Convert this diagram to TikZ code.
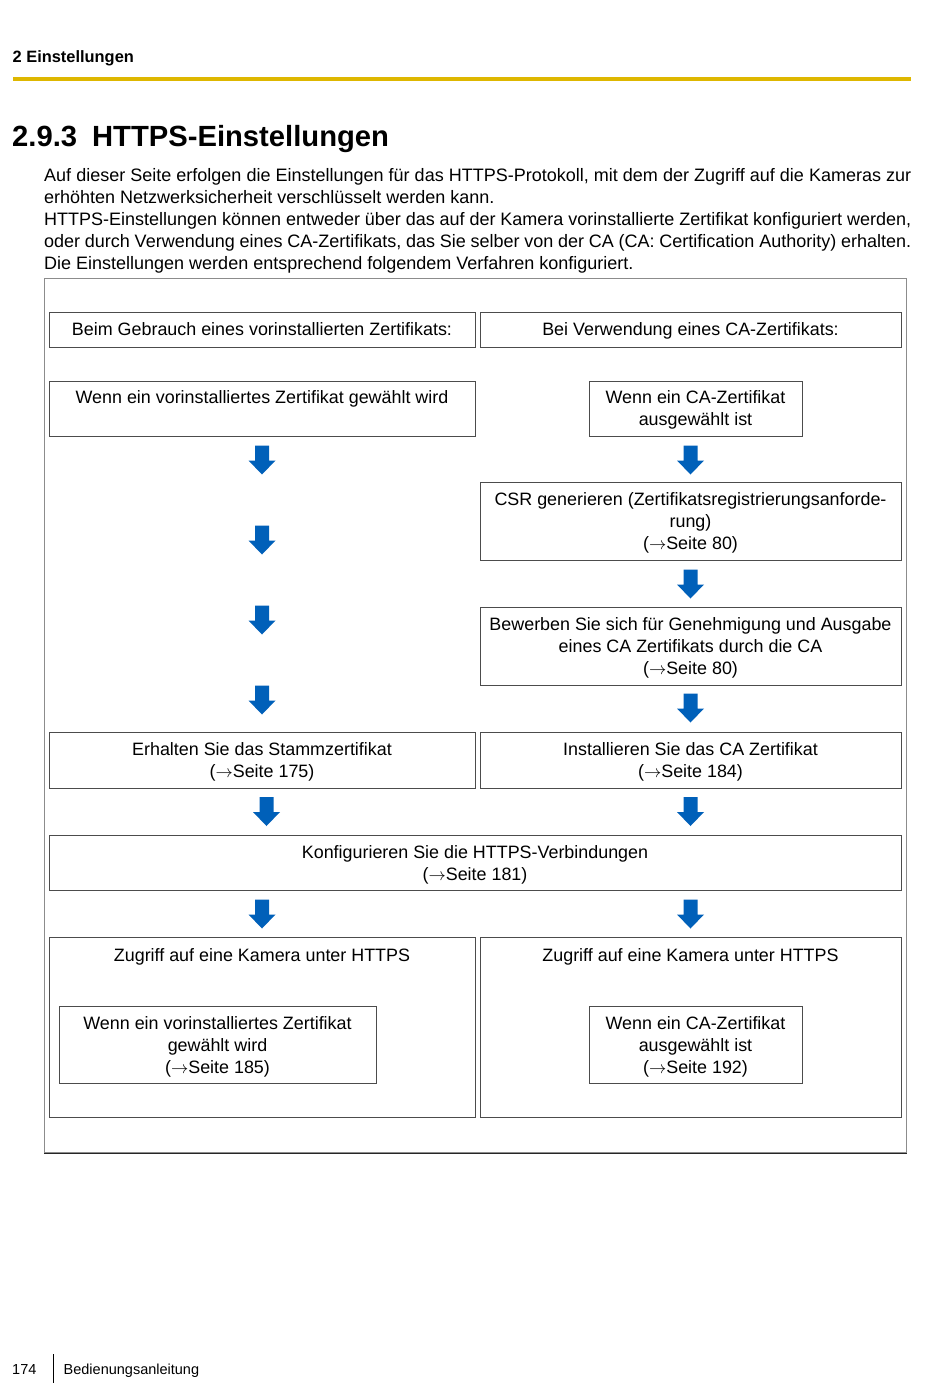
\documentclass[tikz,border=0pt]{standalone}
\usepackage{fontspec}
\setmainfont{Liberation Sans}
\usetikzlibrary{calc}
\definecolor{arrowblue}{RGB}{0,96,185}
\definecolor{rulegold}{RGB}{222,183,0}
\setlength{\parindent}{0pt}
\setlength{\parskip}{0pt}
\tolerance=9999
\emergencystretch=20pt
\hyphenpenalty=10000
\newcommand\fls{\rule{0pt}{15pt}}
\newcommand\seitearrow{{\fontsize{17.28}{18}\selectfont$\rightarrow$}}
\newcommand\flowarrow[2]{\fill[arrowblue] ($(#1)+(-7,0)$) -- ($(#1)+(7,0)$) -- ($(#1)+(7,15)$) -- ($(#1)+(13.5,15)$) -- (#2) -- ($(#1)+(-13.5,15)$) -- ($(#1)+(-7,15)$) -- cycle;}
\begin{document}
\begin{tikzpicture}[x=1pt,y=-1pt,
  box/.style={draw=black!70, line width=1pt, inner sep=0pt, anchor=north west},
  txt/.style={inner sep=0pt, anchor=north, align=center, font=\fontsize{17.9}{22}\selectfont},
  plain/.style={inner sep=0pt, anchor=base west}]
\useasboundingbox[fill=white] (0,0) rectangle (950,1397);

% header
\node[plain, font=\bfseries\fontsize{16.4}{19}\selectfont] (chap) at (12.5,62.5) {2 Einstellungen};
\fill[rulegold] (13,77) rectangle (911,81);
\node[plain, font=\bfseries\fontsize{29.2}{34}\selectfont] (title) at (12,146) {2.9.3\hspace{15pt}HTTPS-Einstellungen};

% intro
\node[inner sep=0pt, anchor=north west, text width=867pt, align=justify, font=\fontsize{18}{22}\selectfont] (intro) at (44,166) {\fls Auf dieser Seite erfolgen die Einstellungen für das HTTPS-Protokoll, mit dem der Zugriff auf die Kameras zur\linebreak erhöhten Netzwerksicherheit verschlüsselt werden kann.\\
HTTPS-Einstellungen können entweder über das auf der Kamera vorinstallierte Zertifikat konfiguriert werden,\linebreak oder durch Verwendung eines CA-Zertifikats, das Sie selber von der CA (CA: Certification Authority) erhalten.\linebreak Die Einstellungen werden entsprechend folgendem Verfahren konfiguriert.};

% frame
\node[draw=black!45, line width=1.2pt, inner sep=0pt, anchor=north west, minimum width=862pt, minimum height=874pt] (frame) at (44,278) {};
\draw[black!85, line width=1.2pt] (frame.south west) -- (frame.south east);

% boxes
\node[box, minimum width=426pt, minimum height=35pt] (h1) at (49,312) {};
\node[box, minimum width=421pt, minimum height=35pt] (h2) at (480,312) {};
\node[box, minimum width=426pt, minimum height=55pt] (l1) at (49,381) {};
\node[box, minimum width=213pt, minimum height=55pt] (r1) at (589,381) {};
\node[box, minimum width=421pt, minimum height=78pt] (csr) at (480,482) {};
\node[box, minimum width=421pt, minimum height=78pt] (bew) at (480,607) {};
\node[box, minimum width=426pt, minimum height=56pt] (erh) at (49,732) {};
\node[box, minimum width=421pt, minimum height=56pt] (ins) at (480,732) {};
\node[box, minimum width=852pt, minimum height=55pt] (konf) at (49,835) {};
\node[box, minimum width=426pt, minimum height=180pt] (zl) at (49,937) {};
\node[box, minimum width=317pt, minimum height=77pt] (zli) at (59,1006) {};
\node[box, minimum width=421pt, minimum height=180pt] (zr) at (480,937) {};
\node[box, minimum width=213pt, minimum height=77pt] (zri) at (589,1006) {};

% texts
\node[txt] (th1) at (262,320) {\fls Beim Gebrauch eines vorinstallierten Zertifikats:};
\node[txt] (th2) at (690.5,320) {\fls Bei Verwendung eines CA-Zertifikats:};
\node[txt] (tl1) at (262,388) {\fls Wenn ein vorinstalliertes Zertifikat gewählt wird};
\node[txt] (tr1) at (695.5,388) {\fls Wenn ein CA-Zertifikat\\ausgewählt ist};
\node[txt] (tcsr) at (690.5,490.5) {\fls CSR generieren (Zertifikatsregistrierungsanforde-\\rung)\\(\seitearrow Seite 80)};
\node[txt] (tbew) at (690.5,615.5) {\fls Bewerben Sie sich für Genehmigung und Ausgabe\\eines CA Zertifikats durch die CA\\(\seitearrow Seite 80)};
\node[txt] (terh) at (262,740.5) {\fls Erhalten Sie das Stammzertifikat\\(\seitearrow Seite 175)};
\node[txt] (tins) at (690.5,740.5) {\fls Installieren Sie das CA Zertifikat\\(\seitearrow Seite 184)};
\node[txt] (tkonf) at (475,843) {\fls Konfigurieren Sie die HTTPS-Verbindungen\\(\seitearrow Seite 181)};
\node[txt] (tzl) at (262,946) {\fls Zugriff auf eine Kamera unter HTTPS};
\node[txt] (tzli) at (217.5,1014) {\fls Wenn ein vorinstalliertes Zertifikat\\gewählt wird\\(\seitearrow Seite 185)};
\node[txt] (tzr) at (690.5,946) {\fls Zugriff auf eine Kamera unter HTTPS};
\node[txt] (tzri) at (695.5,1014) {\fls Wenn ein CA-Zertifikat\\ausgewählt ist\\(\seitearrow Seite 192)};

% arrow end points
\coordinate (aL1s) at (262,445.5); \coordinate (aL1e) at (262,474.5);
\coordinate (aL2s) at (262,525.5); \coordinate (aL2e) at (262,554.5);
\coordinate (aL3s) at (262,605.5); \coordinate (aL3e) at (262,634.5);
\coordinate (aL4s) at (262,685.5); \coordinate (aL4e) at (262,714.5);
\coordinate (aR1s) at (690.5,445.5); \coordinate (aR1e) at (690.5,474.5);
\coordinate (aR2s) at (690.5,569.5); \coordinate (aR2e) at (690.5,598.5);
\coordinate (aR3s) at (690.5,693.5); \coordinate (aR3e) at (690.5,722.5);
\coordinate (aL5s) at (266.5,797); \coordinate (aL5e) at (266.5,826);
\coordinate (aR5s) at (690.5,797); \coordinate (aR5e) at (690.5,826);
\coordinate (aL6s) at (262,899.5); \coordinate (aL6e) at (262,928.5);
\coordinate (aR6s) at (690.5,899.5); \coordinate (aR6e) at (690.5,928.5);

\flowarrow{aL1s}{aL1e}
\flowarrow{aL2s}{aL2e}
\flowarrow{aL3s}{aL3e}
\flowarrow{aL4s}{aL4e}
\flowarrow{aR1s}{aR1e}
\flowarrow{aR2s}{aR2e}
\flowarrow{aR3s}{aR3e}
\flowarrow{aL5s}{aL5e}
\flowarrow{aR5s}{aR5e}
\flowarrow{aL6s}{aL6e}
\flowarrow{aR6s}{aR6e}

% footer
\node[plain, font=\fontsize{14.5}{17}\selectfont] (pg) at (12,1374) {174};
\coordinate (sepTop) at (53.5,1354); \coordinate (sepBot) at (53.5,1383);
\draw[line width=1.5pt] (sepTop) -- (sepBot);
\node[plain, font=\fontsize{14.5}{17}\selectfont] (doc) at (63.5,1374) {Bedienungsanleitung};
\end{tikzpicture}
\end{document}
